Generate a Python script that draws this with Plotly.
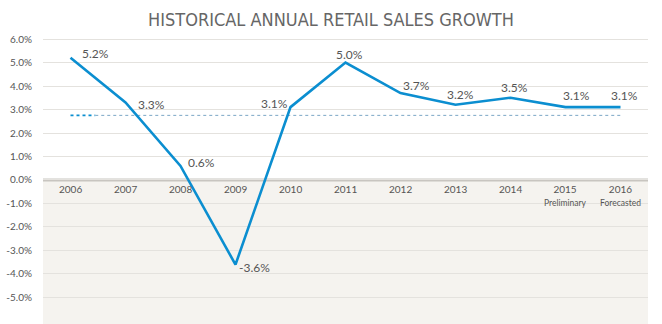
import plotly.graph_objects as go

years = ["2006", "2007", "2008", "2009", "2010", "2011", "2012", "2013", "2014", "2015", "2016"]
sublabels = ["", "", "", "", "", "", "", "", "", "Preliminary", "Forecasted"]
growth = [5.2, 3.3, 0.6, -3.6, 3.1, 5.0, 3.7, 3.2, 3.5, 3.1, 3.1]
average = 2.75
y_ticks = [6, 5, 4, 3, 2, 1, 0, -1, -2, -3, -4, -5]
y_ticktext = ["6.0%", "5.0%", "4.0%", "3.0%", "2.0%", "1.0%", "0.0%", "-1.0%", "-2.0%", "-3.0%", "-4.0%", "-5.0%"]

# label placement styles (xanchor, xshift, yshift)
label_pos = [
    ("left", 9, 4), ("left", 10, -2), ("left", 5, 3), ("left", 1, -3),
    ("right", -1, 4), ("center", 4, 8), ("left", 0, 8), ("center", 5, 10),
    ("center", 4, 10), ("center", 11, 12), ("center", 4, 12),
]

idx = list(range(len(years)))
FONT = "Lato"
LINE = "#0b8ed0"

fig = go.Figure()
fig.add_trace(go.Scatter(x=[0, 0.45], y=[average, average], mode="lines",
                         line=dict(color=LINE, width=1.6, dash="dot"), hoverinfo="skip"))
fig.add_trace(go.Scatter(x=[0.45, idx[-1]], y=[average, average], mode="lines",
                         line=dict(color="#7aa6c6", width=1, dash="dot"), hoverinfo="skip"))
fig.add_trace(go.Scatter(x=idx, y=growth, mode="lines",
                         line=dict(color=LINE, width=2.6), hoverinfo="skip"))

annotations = []
for i, v in enumerate(growth):
    xa, xs, ys = label_pos[i]
    annotations.append(dict(x=i, y=v, xref="x", yref="y", text=f"{v:.1f}%", showarrow=False,
                            xanchor=xa, yanchor="middle", xshift=xs, yshift=ys,
                            font=dict(family=FONT, size=12, color="#555555")))
for i, yr in enumerate(years):
    txt = yr
    if sublabels[i]:
        txt = f"{yr}<br><span style='font-size:8.5px'>{sublabels[i]}</span>"
    annotations.append(dict(x=i, y=0, xref="x", yref="y", text=txt, showarrow=False,
                            xanchor="center", yanchor="top", yshift=-1,
                            font=dict(family=FONT, size=10, color="#555555")))

shapes = [
    dict(type="rect", xref="paper", yref="y", x0=0, x1=1, y0=-7, y1=0,
         fillcolor="#f5f3ef", line=dict(width=0), layer="below"),
    dict(type="line", xref="paper", yref="y", x0=0, x1=1, y0=0, y1=0,
         line=dict(color="#c8c5c0", width=3), layer="below"),
]

fig.update_layout(
    width=662, height=324,
    margin=dict(l=43, r=14, t=37, b=0),
    paper_bgcolor="white", plot_bgcolor="rgba(0,0,0,0)",
    showlegend=False,
    title=dict(text="HISTORICAL ANNUAL RETAIL SALES GROWTH", x=0.5, xanchor="center",
               xref="container", y=0.938, yanchor="middle", yref="container",
               font=dict(family="DejaVu Sans Condensed", size=18, color="#666666")),
    annotations=annotations, shapes=shapes,
    xaxis=dict(range=[-0.5, 10.5], showgrid=False, zeroline=False, showticklabels=False,
               fixedrange=True),
    yaxis=dict(range=[-6.128, 6.085], tickvals=y_ticks, ticktext=y_ticktext,
               showgrid=True, gridcolor="#e4e2de", gridwidth=1, zeroline=False,
               ticks="outside", ticklen=8, tickcolor="rgba(0,0,0,0)",
               tickfont=dict(family=FONT, size=10, color="#555555"), fixedrange=True),
)

fig.write_html("out.html")
